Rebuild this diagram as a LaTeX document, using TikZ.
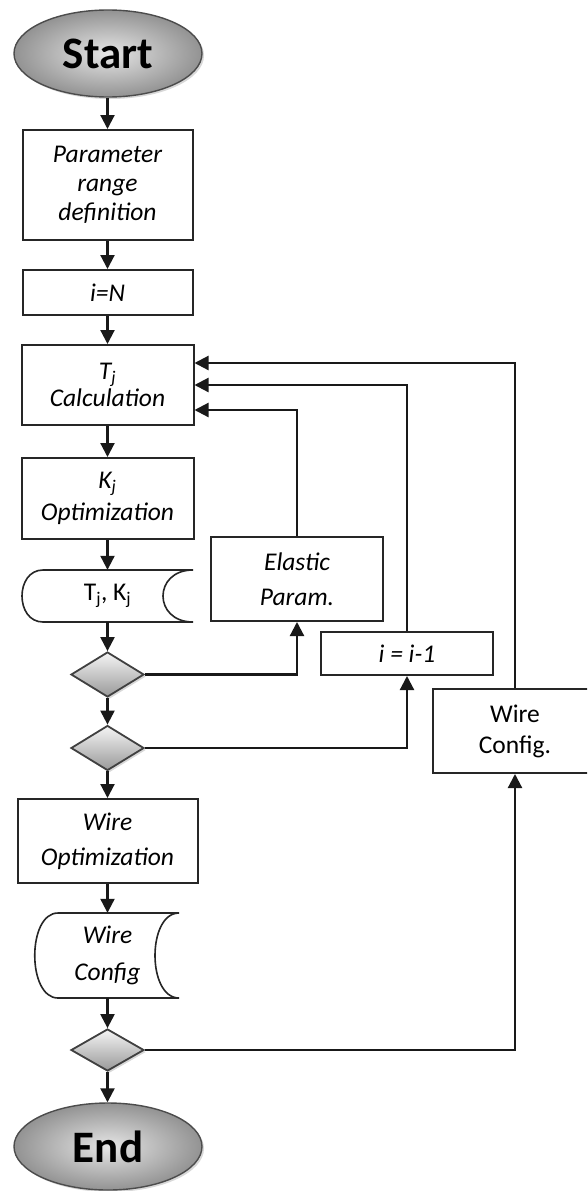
\documentclass[tikz,border=0pt]{standalone}
\usepackage{fontspec}
\setmainfont{Carlito}
\usetikzlibrary{arrows.meta,shapes.geometric,shadows,calc}
\begin{document}
\begin{tikzpicture}[x=1pt,y=-1pt,
  box/.style={draw=black!85, line width=2pt, fill=white, rectangle, inner sep=0pt, align=center},
  txt/.style={font={\fontsize{25.5}{#1}\selectfont\itshape}},
  txtup/.style={font={\fontsize{25.5}{#1}\selectfont}},
  term/.style={ellipse, draw=black!70, line width=1.4pt, inner color=gray!20, outer color=gray!85,
    minimum width=188pt, minimum height=87pt, inner sep=0pt, font={\fontsize{45}{50}\selectfont\bfseries},
    drop shadow={shadow xshift=2pt, shadow yshift=-2pt, fill=gray!60, opacity=0.5}},
  dec/.style={diamond, draw=black!75, line width=1.8pt, top color=gray!8, bottom color=gray!80,
    minimum width=73pt, minimum height=45pt, inner sep=0pt,
    drop shadow={shadow xshift=2pt, shadow yshift=-2pt, fill=gray!60, opacity=0.5}},
  store/.style={draw=black!85, line width=1.6pt, fill=white},
  conn/.style={line width=2.2pt, draw=black!90, -{Triangle[length=14pt,width=14pt]}}]
\useasboundingbox (0,0) rectangle (587,1191);
\clip (0,0) rectangle (587,1191);
\fill[white] (0,0) rectangle (587,1191);

% main column
\node[term] (start) at (108,53.5) {Start};
\node[box, txt=29, minimum width=170pt, minimum height=110pt] (param) at (107.5,185) {Parameter\\range\\definition};
\node[box, txt=29, minimum width=170pt, minimum height=45pt] (iN) at (107.5,292.5) {i=N};
\node[box, txt=27, minimum width=172pt, minimum height=80pt] (Tj) at (107.5,385) {T\textsubscript{j}\\Calculation};
\node[box, txt=32, minimum width=172pt, minimum height=81pt] (Kj) at (107.5,498.5) {K\textsubscript{j}\\Optimization};

% storage 1
\draw[store] (43,570) -- (193,570) .. controls (153,570) and (153,622) .. (193,622) -- (43,622) .. controls (15,622) and (15,570) .. (43,570) -- cycle;
\node[rectangle, inner sep=0pt, minimum width=171pt, minimum height=52pt, txtup=29] (s1) at (107.5,596) {T\textsubscript{j}, K\textsubscript{j}};

\node[dec] (d1) at (107.5,674.5) {};
\node[dec] (d2) at (107.5,748) {};
\node[box, txt=35, minimum width=180pt, minimum height=84pt] (wopt) at (107.5,841) {Wire\\Optimization};

% storage 2
\draw[store] (58,913) -- (179,913) .. controls (147,913) and (147,998) .. (179,998) -- (58,998) .. controls (27,998) and (27,913) .. (58,913) -- cycle;
\node[rectangle, inner sep=0pt, minimum width=145pt, minimum height=85pt, align=center, txt=37] (s2) at (107.5,955.5) {Wire\\Config};

\node[dec, minimum height=42pt] (d3) at (107.5,1050) {};
\node[term] (end) at (108,1146.5) {End};

% right column
\node[box, txt=35, minimum width=172pt, minimum height=84pt] (elastic) at (297,579) {Elastic\\Param.};
\node[box, txt=29, minimum width=172pt, minimum height=43pt] (imin) at (407,653.5) {i = i-1};
\node[box, txtup=31, minimum width=164pt, minimum height=84pt] (wcfg) at (515,731) {Wire\\Config.};

% entry points on Tj
\coordinate (tin1) at ($(Tj.east)+(0,-22)$);
\coordinate (tin2) at (Tj.east);
\coordinate (tin3) at ($(Tj.east)+(0,25)$);

% vertical flow
\draw[conn] (start.south -| param.north) -- (param.north);
\draw[conn] (param) -- (iN);
\draw[conn] (iN) -- (Tj);
\draw[conn] (Tj) -- (Kj);
\draw[conn] (Kj) -- (s1);
\draw[conn] (s1) -- (d1);
\draw[conn] (d1) -- (d2);
\draw[conn] (d2) -- (wopt);
\draw[conn] (wopt) -- (s2);
\draw[conn] (s2.south) -- (d3.north);
\draw[conn] (d3) -- (end.north -| d3.south);

% loops
\draw[conn] (d1.east) -| (elastic.south);
\draw[conn] (elastic.north) |- (tin3);
\draw[conn] (d2.east) -| (imin.south);
\draw[conn] (imin.north) |- (tin2);
\draw[conn] (d3.east) -| (wcfg.south);
\draw[conn] (wcfg.north) |- (tin1);
\end{tikzpicture}
\end{document}
